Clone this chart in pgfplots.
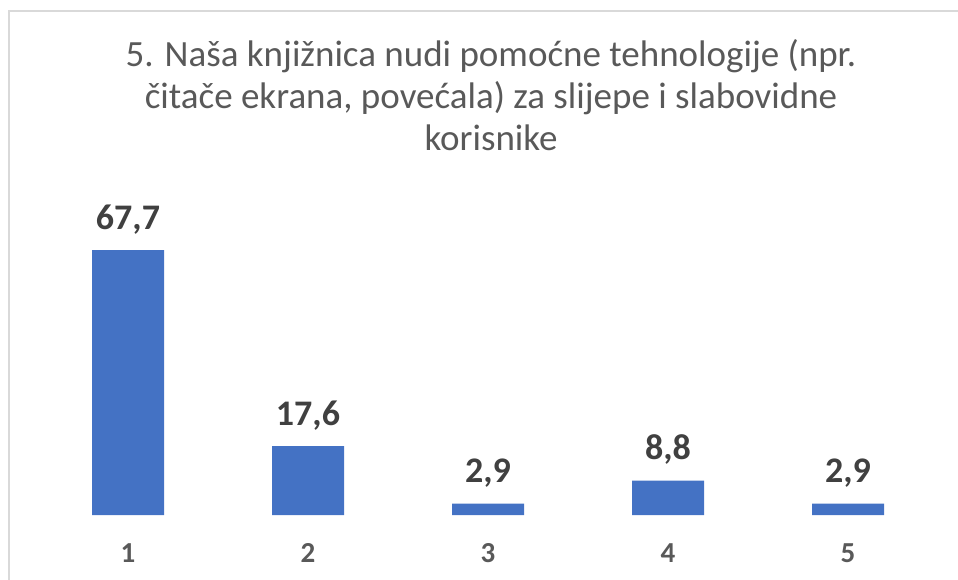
\documentclass[border=0pt]{standalone}
\usepackage{pgfplots}
\pgfplotsset{compat=1.18}
\usepackage{fontspec}
\setmainfont{Carlito}
\definecolor{barblue}{HTML}{4472C4}
\definecolor{titlegray}{HTML}{595959}
\definecolor{labelgray}{HTML}{404040}
\definecolor{framegray}{HTML}{D9D9D9}
\begin{document}
\begin{tikzpicture}[x=1pt,y=1pt]
\path[use as bounding box] (0,0) rectangle (958,579);
\clip (0,0) rectangle (958,579);
% chart frame (cropped at right and bottom)
\draw[framegray, line width=1.2pt] (9,-20) -- (9,568) -- (990,568);
% title
\node[anchor=base, text=titlegray, font=\fontsize{37}{42}\selectfont] at (491,512) {5. Naša knjižnica nudi pomoćne tehnologije (npr.};
\node[anchor=base, text=titlegray, font=\fontsize{37}{42}\selectfont] at (491,470) {čitače ekrana, povećala) za slijepe i slabovidne};
\node[anchor=base, text=titlegray, font=\fontsize{37}{42}\selectfont] at (491,428) {korisnike};
\begin{axis}[
  at={(38pt,64pt)}, anchor=south west,
  scale only axis,
  width=900pt, height=313pt,
  xmin=0.5, xmax=5.5, ymin=0, ymax=80,
  enlarge x limits=false, enlarge y limits=false,
  axis line style={draw=none},
  ytick=\empty,
  xtick={1,2,3,4,5},
  xticklabels={1,2,3,4,5},
  major tick length=0pt,
  xticklabel style={anchor=base, yshift=-47pt, text=titlegray,
    font=\fontsize{29}{34}\selectfont\bfseries},
  ybar, bar width=72pt,
  /pgf/number format/.cd, use comma, fixed, fixed zerofill, precision=1, assume math mode=true,
  /pgfplots/.cd,
  nodes near coords,
  every node near coord/.append style={anchor=base, yshift=21pt, text=labelgray,
    font=\fontsize{36}{43}\selectfont\bfseries},
]
\addplot[fill=barblue, draw=none] coordinates {(1,67.7) (2,17.6) (3,2.9) (4,8.8) (5,2.9)};
\end{axis}
\end{tikzpicture}
\end{document}
